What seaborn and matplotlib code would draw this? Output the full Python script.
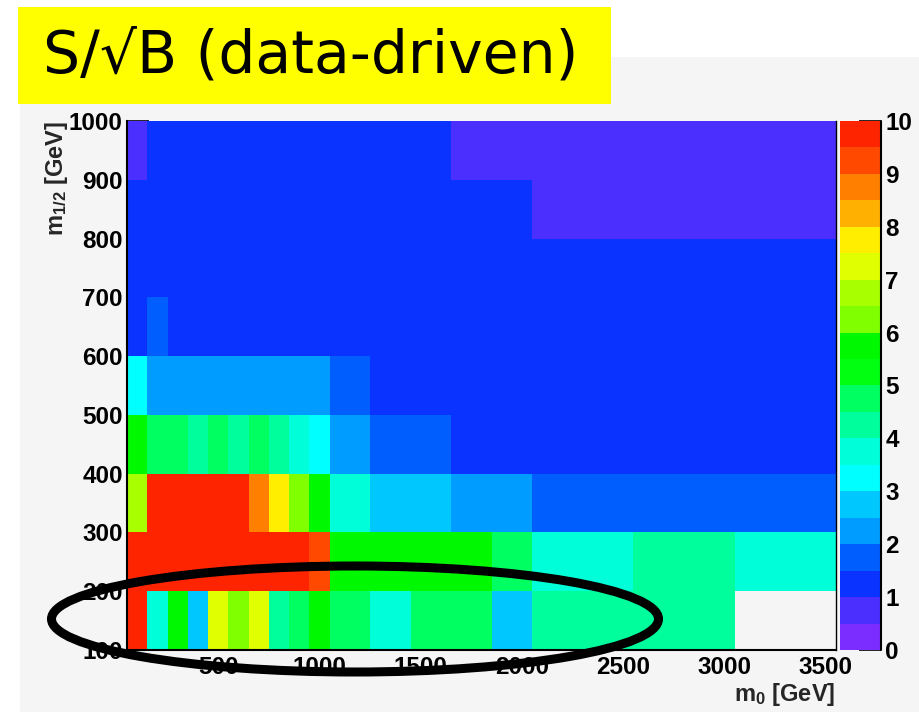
import numpy as np
import pandas as pd
import matplotlib
matplotlib.use("Agg")
import matplotlib.pyplot as plt
import seaborn as sns
from matplotlib.colors import ListedColormap, BoundaryNorm
from matplotlib.patches import Rectangle, Ellipse
from matplotlib.lines import Line2D
from matplotlib.ticker import FixedLocator

# ---- binning of the scan (GeV) ----
m0_edges = [50, 150, 250, 350, 450, 550, 650, 750, 850, 950, 1050,
            1250, 1450, 1650, 1850, 2050, 2550, 3050, 3550]
mhalf_edges = [100, 200, 300, 400, 500, 600, 700, 800, 900, 1000]

# ---- S/sqrt(B) per bin, one list per m_1/2 row (bottom to top) ----
row_100 = [9.8, 3.7, 5.5, 2.7, 7.2, 6.2, 7.2, 4.2, 4.7, 5.5,
           4.7, 3.7, 4.7, 4.7, 2.7, 4.2, 4.2, np.nan]
row_200 = [9.8, 9.8, 9.8, 9.8, 9.8, 9.8, 9.8, 9.8, 9.8, 9.2,
           5.5, 5.5, 5.5, 5.5, 4.7, 3.7, 4.2, 3.7]
row_300 = [6.7, 9.8, 9.8, 9.8, 9.8, 9.8, 8.7, 7.7, 6.2, 5.5,
           3.7, 2.7, 2.7, 2.2, 2.2, 1.7, 1.7, 1.7]
row_400 = [5.5, 4.7, 4.7, 4.2, 4.7, 4.2, 4.7, 4.2, 3.7, 3.2,
           2.2, 1.7, 1.7, 1.2, 1.2, 1.2, 1.2, 1.2]
row_500 = [3.2, 2.2, 2.2, 2.2, 2.2, 2.2, 2.2, 2.2, 2.2, 2.2,
           1.7, 1.2, 1.2, 1.2, 1.2, 1.2, 1.2, 1.2]
row_600 = [1.2, 1.7, 1.2, 1.2, 1.2, 1.2, 1.2, 1.2, 1.2, 1.2,
           1.2, 1.2, 1.2, 1.2, 1.2, 1.2, 1.2, 1.2]
row_700 = [1.2, 1.2, 1.2, 1.2, 1.2, 1.2, 1.2, 1.2, 1.2, 1.2,
           1.2, 1.2, 1.2, 1.2, 1.2, 1.2, 1.2, 1.2]
row_800 = [1.2, 1.2, 1.2, 1.2, 1.2, 1.2, 1.2, 1.2, 1.2, 1.2,
           1.2, 1.2, 1.2, 1.2, 1.2, 0.7, 0.7, 0.7]
row_900 = [0.7, 1.2, 1.2, 1.2, 1.2, 1.2, 1.2, 1.2, 1.2, 1.2,
           1.2, 1.2, 1.2, 0.7, 0.7, 0.7, 0.7, 0.7]
rows = [row_100, row_200, row_300, row_400, row_500,
        row_600, row_700, row_800, row_900]

# ---- colour palette: 20 contour levels between 0 and 10 ----
levels = np.arange(0, 10.5, 0.5)
palette = ['#7b2dff', '#4a2fff', '#0a33ff', '#005eff', '#009cff',
           '#00c8ff', '#00ffff', '#00ffd8', '#00ff9c', '#00ff60',
           '#00ff10', '#00f800', '#80ff00', '#a8ff00', '#e0ff00',
           '#ffee00', '#ffb000', '#ff8000', '#ff4800', '#ff2400']
colorbar_ticks = list(range(0, 11))

title_text = "S/\u221aB (data-driven)"
xlabel_text = r"$\mathbf{m}_{\mathbf{0}}$ [GeV]"
ylabel_text = r"$\mathbf{m}_{\mathbf{1/2}}$ [GeV]"
xmajor = [500, 1000, 1500, 2000, 2500, 3000, 3500]
ymajor = [100, 200, 300, 400, 500, 600, 700, 800, 900, 1000]

# ---- style ----
sns.set_style("ticks")
plt.rcParams["font.family"] = ["Liberation Sans", "DejaVu Sans"]
plt.rcParams["font.weight"] = "bold"
plt.rcParams["mathtext.fontset"] = "custom"
plt.rcParams["mathtext.rm"] = "Liberation Sans:bold"
plt.rcParams["mathtext.bf"] = "Liberation Sans:bold"
plt.rcParams["mathtext.it"] = "Liberation Sans:bold"

W, H = 920, 712
fig = plt.figure(figsize=(W / 100, H / 100), dpi=100, facecolor="white")


def fx(px):
    return px / W


def fy(py):
    return 1 - py / H


# grey canvas behind the histogram
fig.add_artist(Rectangle((fx(20), 0), 1 - fx(20), fy(57),
                         transform=fig.transFigure, facecolor="#f5f5f5",
                         edgecolor="none", zorder=-5))

ax = fig.add_axes([fx(127), fy(650), fx(836) - fx(127), fy(121) - fy(650)])
cax = fig.add_axes([fx(840), fy(650), fx(881) - fx(840), fy(121) - fy(650)])
ax.set_facecolor("#f5f5f5")

# expand the variable-width bins onto a uniform 100 GeV grid for the heatmap
step = 100
widths = (np.diff(m0_edges) // step).astype(int)
grid = np.array([np.repeat(np.array(r, dtype=float), widths) for r in rows])
m0_centres = np.arange(m0_edges[0] + step / 2, m0_edges[-1], step)
mhalf_centres = [(a + b) / 2 for a, b in zip(mhalf_edges[:-1], mhalf_edges[1:])]
df = pd.DataFrame(grid[::-1], index=mhalf_centres[::-1], columns=m0_centres)

cmap = ListedColormap(palette)
cmap.set_bad("#f5f5f5")
norm = BoundaryNorm(levels, cmap.N)

sns.heatmap(df, ax=ax, cmap=cmap, norm=norm, cbar=True, cbar_ax=cax,
            cbar_kws={"ticks": colorbar_ticks}, linewidths=0,
            xticklabels=False, yticklabels=False)


# data -> heatmap cell coordinates
def xpos(v):
    return (v - m0_edges[0]) / step


def ypos(v):
    return (mhalf_edges[-1] - v) / (mhalf_edges[1] - mhalf_edges[0])


ax.set_xlim(xpos(m0_edges[0]), xpos(m0_edges[-1]))
ax.set_ylim(ypos(mhalf_edges[0]), ypos(mhalf_edges[-1]))

ax.xaxis.set_major_locator(FixedLocator([xpos(v) for v in xmajor]))
ax.set_xticklabels([str(v) for v in xmajor])
ax.xaxis.set_minor_locator(FixedLocator([xpos(v) for v in range(100, 3600, 100)]))
ax.yaxis.set_major_locator(FixedLocator([ypos(v) for v in ymajor]))
ax.set_yticklabels([str(v) for v in ymajor])
ax.yaxis.set_minor_locator(FixedLocator([ypos(v) for v in range(100, 1001, 20)]))

tick_fs = 17.5
ax.tick_params(axis="x", which="major", direction="in", length=11.5, width=1.2,
               labelsize=tick_fs, pad=4, bottom=True, top=False, colors="black")
ax.tick_params(axis="x", which="minor", direction="in", length=5.5, width=1.2,
               bottom=True, top=False)
ax.tick_params(axis="y", which="major", direction="in", length=16, width=1.2,
               labelsize=tick_fs, pad=3, left=True, right=False, colors="black")
ax.tick_params(axis="y", which="minor", direction="in", length=8, width=1.2,
               left=True, right=False)
for lbl in ax.get_xticklabels() + ax.get_yticklabels():
    lbl.set_fontweight("bold")
    lbl.set_rotation(0)

for side in ["left", "bottom", "right"]:
    ax.spines[side].set_visible(True)
    ax.spines[side].set_color("black")
ax.spines["left"].set_linewidth(1.5)
ax.spines["bottom"].set_linewidth(1.5)
ax.spines["right"].set_linewidth(1.0)
ax.spines["top"].set_visible(False)
ax.set_xlabel("")
ax.set_ylabel("")

# palette axis on the right
cb = ax.collections[0].colorbar
cb.outline.set_visible(False)
cb.ax.tick_params(direction="in", length=16, width=1.2, labelsize=tick_fs,
                  pad=3, right=True, left=False, colors="black")
cb.ax.minorticks_off()
for lbl in cb.ax.get_yticklabels():
    lbl.set_fontweight("bold")
cb.ax.add_line(Line2D([1, 1], [0, 1], transform=cb.ax.transAxes,
                      color="black", lw=1.5, clip_on=False))

# axis titles
fig.text(fx(835), fy(694), xlabel_text, ha="right", va="center",
         fontsize=17, fontweight="bold")
fig.text(fx(57), fy(121), ylabel_text, ha="center", va="top",
         rotation=90, fontsize=17, fontweight="bold")

# headline box
fig.add_artist(Rectangle((fx(18), fy(104)), fx(611) - fx(18), fy(7) - fy(104),
                         transform=fig.transFigure, facecolor="#ffff00",
                         edgecolor="none", zorder=5))
fig.text(fx(311), fy(56), title_text, ha="center", va="center",
         fontsize=42, fontweight="normal", family=["DejaVu Sans"],
         color="black", zorder=6)

# highlighted low-m_1/2 band
fig.add_artist(Ellipse((fx(355), fy(619)), fx(607), 106 / H,
                       transform=fig.transFigure, facecolor="none",
                       edgecolor="black", lw=6.5, zorder=10))

fig.savefig("out.png", dpi=100, facecolor=fig.get_facecolor())
